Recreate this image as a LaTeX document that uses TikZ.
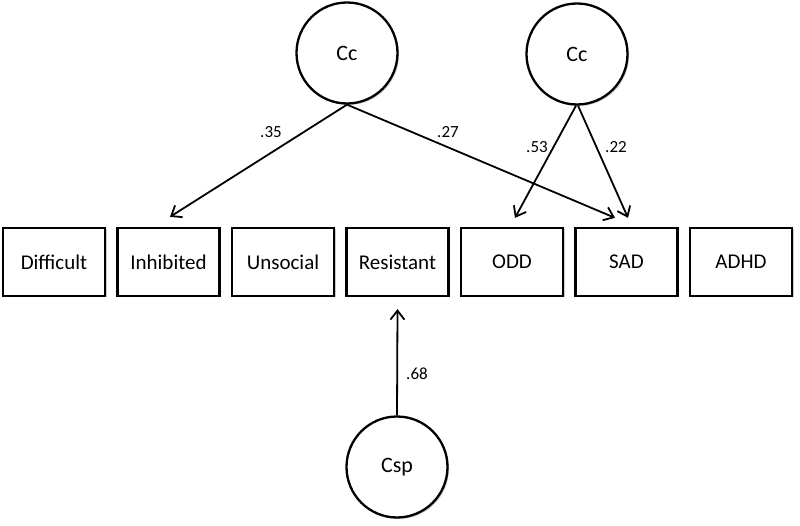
\documentclass[tikz,border=0pt]{standalone}
\usepackage{fontspec}
\setmainfont{Carlito}
\usetikzlibrary{arrows.meta,shadows}
\begin{document}
\begin{tikzpicture}[x=1pt,y=-1pt,
  box/.style={draw,line width=2.3pt,minimum width=102pt,minimum height=68pt,inner sep=0pt,fill=white,font=\fontsize{21}{24}\selectfont,
    drop shadow={shadow xshift=1.5pt,shadow yshift=-1.5pt,opacity=0.35,fill=black!60}},
  lat/.style={draw,circle,line width=2.3pt,minimum size=101pt,inner sep=0pt,fill=white,font=\fontsize{22}{26}\selectfont,
    drop shadow={shadow xshift=1.5pt,shadow yshift=-1.5pt,opacity=0.35,fill=black!60}},
  path/.style={line width=1.8pt,-{Straight Barb[length=9pt,width=14pt,line width=1.8pt]}},
  lab/.style={font=\fontsize{17}{20}\selectfont,inner sep=0pt}]
\useasboundingbox (0,0) rectangle (800,526);
\node[box] (dif) at (54,262) {Difficult};
\node[box] (inh) at (168.5,262) {Inhibited};
\node[box] (uns) at (283,262) {Unsocial};
\node[box] (res) at (397.5,262) {Resistant};
\node[box] (odd) at (512,262) {ODD};
\node[box] (sad) at (626.5,262) {SAD};
\node[box] (adhd) at (741,262) {ADHD};
\node[lat] (cc1) at (347,53) {Cc};
\node[lat] (cc2) at (577,54) {Cc};
\node[lat] (csp) at (397,467) {Csp};
\coordinate (inhT) at ([xshift=1.5pt,yshift=10pt]inh.north);
\coordinate (sadT1) at ([xshift=-11.5pt,yshift=9pt]sad.north);
\coordinate (oddT) at ([xshift=3pt,yshift=9pt]odd.north);
\coordinate (sadT2) at ([xshift=1.5pt,yshift=9pt]sad.north);
\coordinate (resB) at ([yshift=-12pt]res.south);
\draw[path] (cc1.south) -- (inhT);
\draw[path] (cc1.south) -- (sadT1);
\draw[path] ([xshift=-1pt]cc2.south) -- (oddT);
\draw[path] ([xshift=1pt]cc2.south) -- (sadT2);
\draw[path] (csp.north) -- (resB);
\node[lab] (l35) at (271,132) {.35};
\node[lab] (l27) at (448,132) {.27};
\node[lab] (l53) at (537,147) {.53};
\node[lab] (l22) at (616,147) {.22};
\node[lab] (l68) at (417,374) {.68};
\end{tikzpicture}
\end{document}
